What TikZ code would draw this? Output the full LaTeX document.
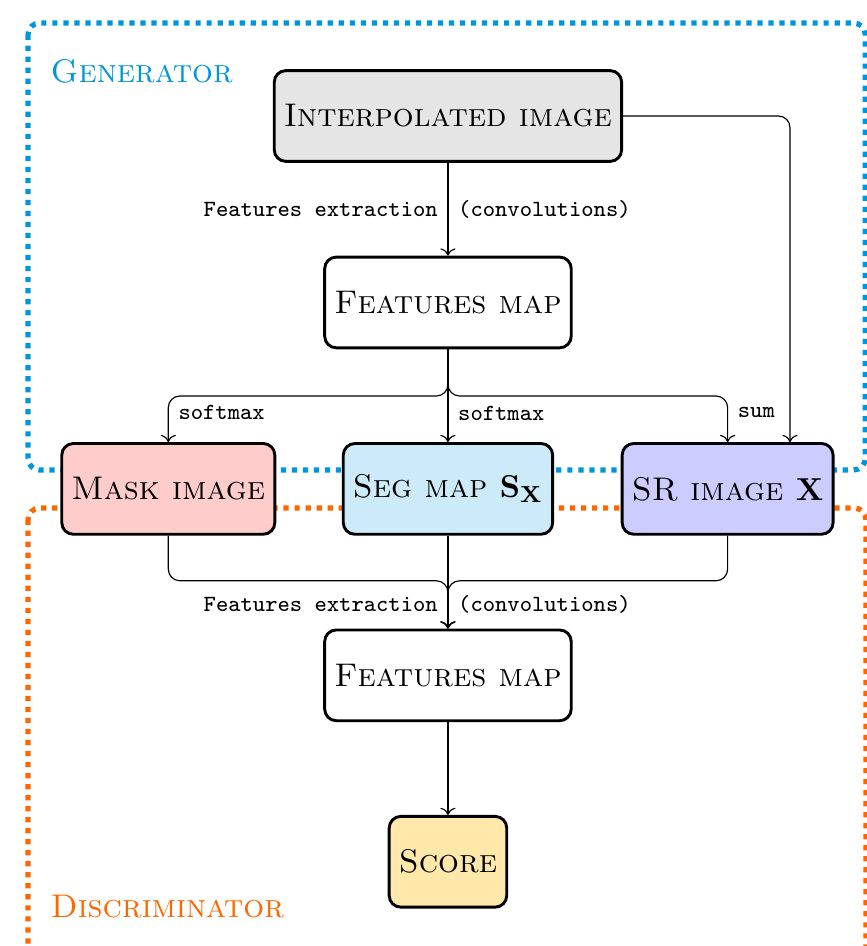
\documentclass[tikz,border=0pt]{standalone}
\usepackage{amsmath,amssymb}
\usepackage{xcolor}
\usetikzlibrary{arrows.meta}
\usetikzlibrary{calc}

\definecolor{genblue}{RGB}{0,150,220}
\definecolor{discorange}{RGB}{255,102,0}
\definecolor{scoreyellow}{RGB}{255,232,170}

\newcommand{\figganfont}{\fontsize{11.3}{13.6}\selectfont\scshape}

\tikzset{
  blockbox/.style={draw, line width=1pt, rounded corners, minimum height=1.1cm, font=\figganfont, fill=white},
  flowline/.style={->, rounded corners},
  flowlabel/.style={font=\footnotesize\ttfamily},
  groupbox/.style={dotted, line width=1.8pt, rounded corners},
  grouplabel/.style={font=\figganfont, anchor=base west},
}

\begin{document}
\begin{tikzpicture}
        \newcommand{\figgancentx}{5.43}
        \newcommand{\figgancolstep}{3.39}
        \newcommand{\figgantopy}{-1.406}
        \newcommand{\figganrowstep}{2.26}
        \newcommand{\figganleftx}{\figgancentx-\figgancolstep}
        \newcommand{\figganrightx}{\figgancentx+\figgancolstep}
        \newcommand{\figganbranchy}{-4.80}
        \newcommand{\figganmergey}{-7.04}
        \useasboundingbox (0,0) rectangle (10.509,-11.467);
        % dotted groups
        \draw[groupbox, genblue] (0.339,-0.279) rectangle (10.488,-5.697);
        \draw[groupbox, discorange] (0.339,-6.158) rectangle (10.497,-11.9);
        \node[grouplabel, text=genblue] (genlabel) at (0.49,-0.994) {Generator};
        \node[grouplabel, text=discorange] (disclabel) at (0.49,-11.127) {Discriminator};
        % blocks
        \node[blockbox, fill=black!10] (interp) at (\figgancentx,\figgantopy) {Interpolated image};
        \node[blockbox] (fmapgen) at (\figgancentx,\figgantopy-\figganrowstep) {Features map};
        \node[blockbox, fill=red!20] (mask) at (\figganleftx,\figgantopy-2*\figganrowstep) {Mask image};
        \node[blockbox, fill=genblue!20] (seg) at (\figgancentx,\figgantopy-2*\figganrowstep) {Seg map $\mathbf{S_X}$};
        \node[blockbox, fill=blue!20] (sr) at (\figganrightx,\figgantopy-2*\figganrowstep) {SR image $\mathbf{X}$};
        \node[blockbox] (fmapdisc) at (\figgancentx,\figgantopy-3*\figganrowstep) {Features map};
        \node[blockbox, fill=scoreyellow] (score) at (\figgancentx,\figgantopy-4*\figganrowstep) {Score};
        % generator flow
        \draw[flowline] (interp) -- node[flowlabel, left] {Features extraction} node[flowlabel, right] {(convolutions)} (fmapgen);
        \draw[flowline] (fmapgen.south) -- (\figgancentx,\figganbranchy) -| node[flowlabel, pos=0.68, right] {softmax} (mask.north);
        \draw[flowline] (fmapgen) -- node[flowlabel, pos=0.69, right] {softmax} (seg);
        \draw[flowline] (fmapgen.south) -- (\figgancentx,\figganbranchy) -| node[flowlabel, pos=0.68, right] {sum} (sr.north);
        \draw[flowline] (interp.east) -| ([xshift=0.756cm]sr.north);
        % discriminator flow
        \draw[flowline] (mask.south) |- (\figgancentx,\figganmergey) -- node[flowlabel, left] {Features extraction} node[flowlabel, right] {(convolutions)} (fmapdisc.north);
        \draw[flowline] (seg) -- (fmapdisc);
        \draw[flowline] (sr.south) |- (\figgancentx,\figganmergey) -- (fmapdisc.north);
        \draw[flowline] (fmapdisc) -- (score);
\end{tikzpicture}
\end{document}
